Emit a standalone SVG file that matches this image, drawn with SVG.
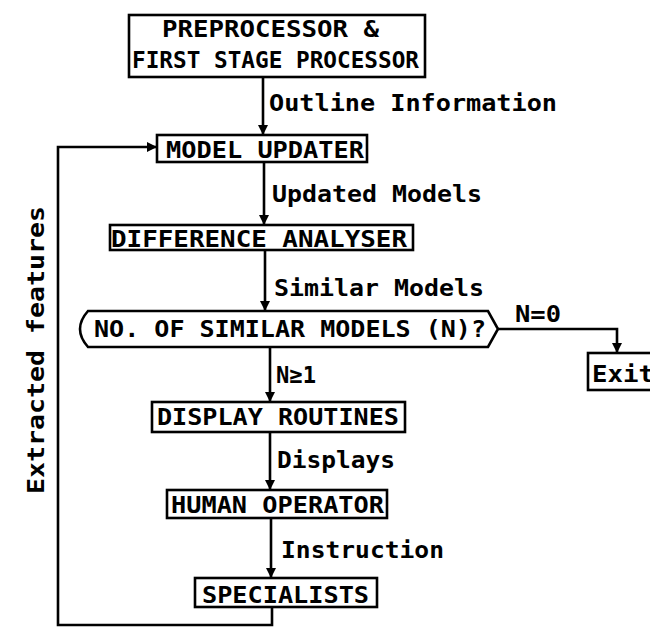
<svg xmlns="http://www.w3.org/2000/svg" width="650" height="631" viewBox="0 0 650 631">
<style>
.box{fill:#fff;stroke:#000;stroke-width:2.6}
.t{font-family:"DejaVu Sans Mono","Liberation Mono",monospace;font-weight:bold;font-size:23px;fill:#000}
.c{fill:none;stroke:#000;stroke-width:2.6}
</style>
<defs>
<marker id="ah" viewBox="0 0 10 10" refX="10" refY="5" markerWidth="10" markerHeight="10" markerUnits="userSpaceOnUse" orient="auto">
<path d="M0,0 L10,5 L0,10 Z" fill="#000"/>
</marker>
</defs>
<rect width="650" height="631" fill="#fff"/>
<g id="connectors">
<line class="c" x1="263" y1="77" x2="263" y2="135" marker-end="url(#ah)"/>
<line class="c" x1="264" y1="162" x2="264" y2="225" marker-end="url(#ah)"/>
<line class="c" x1="265" y1="250" x2="265" y2="311" marker-end="url(#ah)"/>
<line class="c" x1="270" y1="347" x2="270" y2="402" marker-end="url(#ah)"/>
<line class="c" x1="270" y1="432" x2="270" y2="490" marker-end="url(#ah)"/>
<line class="c" x1="271" y1="518" x2="271" y2="578" marker-end="url(#ah)"/>
<polyline class="c" points="272,607 272,625 58,625 58,147 157,147" marker-end="url(#ah)"/>
<polyline class="c" points="498,329 617,329 617,353" marker-end="url(#ah)"/>
<text class="t" x="269" y="111" textLength="288" lengthAdjust="spacingAndGlyphs">Outline Information</text>
<text class="t" x="272" y="202" textLength="210" lengthAdjust="spacingAndGlyphs">Updated Models</text>
<text class="t" x="274" y="296" textLength="210" lengthAdjust="spacingAndGlyphs">Similar Models</text>
<text class="t" x="515" y="322" textLength="46" lengthAdjust="spacingAndGlyphs">N=0</text>
<text class="t" x="276" y="383" textLength="40" lengthAdjust="spacingAndGlyphs">N≥1</text>
<text class="t" x="277" y="468" textLength="118" lengthAdjust="spacingAndGlyphs">Displays</text>
<text class="t" x="281" y="558" textLength="163" lengthAdjust="spacingAndGlyphs">Instruction</text>
<text class="t" transform="translate(44,494) rotate(-90)" textLength="288" lengthAdjust="spacingAndGlyphs">Extracted features</text>
</g>
<g id="preprocessor">
<rect class="box" x="129" y="15" width="296" height="62"/>
<text class="t" x="162" y="37" textLength="217" lengthAdjust="spacingAndGlyphs">PREPROCESSOR &amp;</text>
<text class="t" x="132" y="68" textLength="287" lengthAdjust="spacingAndGlyphs">FIRST STAGE PROCESSOR</text>
</g>
<g id="model-updater">
<rect class="box" x="157" y="135" width="210" height="27"/>
<text class="t" x="166" y="158" textLength="198" lengthAdjust="spacingAndGlyphs">MODEL UPDATER</text>
</g>
<g id="difference-analyser">
<rect class="box" x="110" y="225" width="303" height="25"/>
<text class="t" x="111" y="247" textLength="296" lengthAdjust="spacingAndGlyphs">DIFFERENCE ANALYSER</text>
</g>
<g id="decision">
<path class="box" d="M88,311 L488,311 L498,329 L488,347 L88,347 Q80,338 80,329 Q80,320 88,311 Z"/>
<text class="t" x="94" y="337" textLength="392" lengthAdjust="spacingAndGlyphs">NO. OF SIMILAR MODELS (N)?</text>
</g>
<g id="exit">
<rect class="box" x="588" y="353" width="80" height="37"/>
<text class="t" x="592" y="382" textLength="62" lengthAdjust="spacingAndGlyphs">Exit</text>
</g>
<g id="display-routines">
<rect class="box" x="152" y="402" width="253" height="30"/>
<text class="t" x="157" y="425" textLength="242" lengthAdjust="spacingAndGlyphs">DISPLAY ROUTINES</text>
</g>
<g id="human-operator">
<rect class="box" x="167" y="490" width="220" height="28"/>
<text class="t" x="171" y="513" textLength="213" lengthAdjust="spacingAndGlyphs">HUMAN OPERATOR</text>
</g>
<g id="specialists">
<rect class="box" x="195" y="578" width="182" height="29"/>
<text class="t" x="202" y="603" textLength="167" lengthAdjust="spacingAndGlyphs">SPECIALISTS</text>
</g>
</svg>
